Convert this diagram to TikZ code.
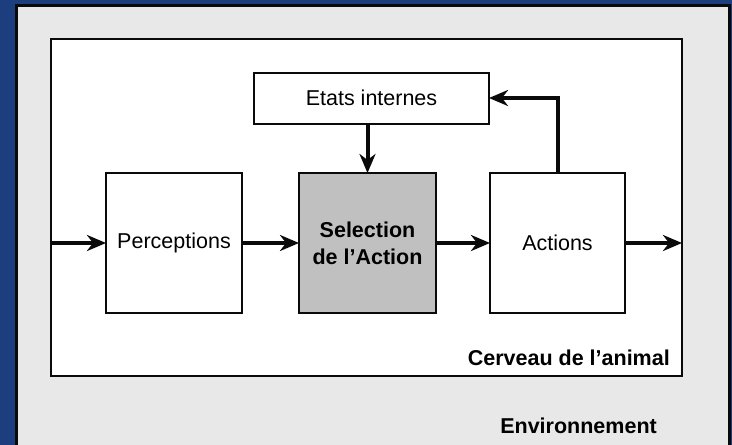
\documentclass[tikz,border=0pt]{standalone}
\usepackage{fontspec}
\setmainfont{Liberation Sans}
\usetikzlibrary{arrows.meta}
\definecolor{slideblue}{HTML}{1D3E7E}
\definecolor{envgray}{HTML}{E8E8E8}
\definecolor{selgray}{HTML}{C0C0C0}
\definecolor{inkblack}{HTML}{0A0A0A}

\tikzset{
  module/.style={draw=inkblack, line width=2pt, fill=white, inner sep=0pt, outer sep=0pt,
    minimum height=140pt, font=\fontsize{21.5}{26}\selectfont, align=center},
  flow/.style={draw=inkblack, line width=4pt,
    -{Stealth[length=19pt, width=16pt, inset=6pt]}},
  label/.style={font=\bfseries\fontsize{21.5}{26}\selectfont, anchor=base east, inner sep=0pt}
}

\begin{document}
\begin{tikzpicture}[x=1pt, y=-1pt]

% Background and margins
\useasboundingbox (0,0) rectangle (732,445);
\fill[slideblue] (0,0) rectangle (732,445);

% Environment panel
\filldraw[fill=envgray, draw=inkblack, line width=3pt] (16,5) rectangle (729,470);
\node[label] (env) at (657,433) {Environnement};

% Animal brain
\filldraw[fill=white, draw=inkblack, line width=2.5pt] (51,39) rectangle (682,376);
\node[label] (brain) at (670,365) {Cerveau de l'animal};

% Modules
\node[module, minimum width=136pt] (percep) at (174,243) {Perceptions};
\node[module, minimum width=137pt, fill=selgray, font=\bfseries\fontsize{21.5}{27}\selectfont]
  (select) at (367.5,243) {Selection\\de l'Action};
\node[module, minimum width=135pt] (actions) at (557.5,243) {Actions};
\node[module, minimum width=235pt, minimum height=51pt] (etats) at (371.5,98) {Etats internes};

% Free ends on the brain border
\coordinate (in) at (51,243);
\coordinate (out) at (682,243);

% Connectors
\draw[flow] (in) -- (percep.west);
\draw[flow] (percep.east) -- (select.west);
\draw[flow] (select.east) -- (actions.west);
\draw[flow] (actions.east) -- (out);
\draw[flow] (select.north |- etats.south) -- (select.north);
\draw[flow] (actions.north) |- (etats.east);

\end{tikzpicture}
\end{document}
